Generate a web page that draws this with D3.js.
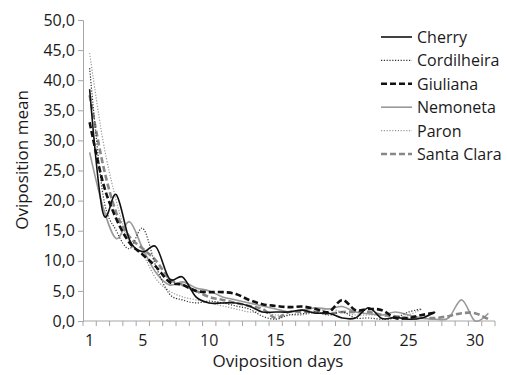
<!DOCTYPE html>
<html><head><meta charset="utf-8">
<script src="https://cdn.jsdelivr.net/npm/d3@7"></script>
<style>body{margin:0;background:#fff}svg{display:block}text{font-family:"Open Sans",sans-serif;fill:#1a1a1a}</style>
</head><body><svg id="c" width="507" height="375"></svg>
<script>
const days = d3.range(1, 32);
const xTickLabels = [1, 5, 10, 15, 20, 25, 30];
const yTicks = [0, 5, 10, 15, 20, 25, 30, 35, 40, 45, 50];
const seriesNames = ["Cherry", "Cordilheira", "Giuliana", "Nemoneta", "Paron", "Santa Clara"];
const cherry = [38.5, 18, 21, 13.5, 11.5, 12.3, 7, 7.3, 4, 3, 3, 3, 2.5, 1.5, 1.5, 1.5, 1.8, 1.3, 1.3, 0.5, 0.5, 2.2, 0.4, 0.6, 0.3, 0.5, 1.5, null, null, null, null];
const cordilheira = [42, 21, 15, 12, 15.4, 9, 4.5, 3.5, 3, 3.3, 3, 2.5, 2, 0.8, 0.3, 1, 1.2, 1.5, 1, 1.5, 0.5, 0.5, 0.3, 0.5, 1.5, 2, null, null, null, null, null];
const giuliana = [33, 23, 17, 13, 11, 9, 6.5, 6, 5, 4.8, 4.8, 4.5, 3.5, 2.8, 2.5, 2.3, 2.4, 2, 1.5, 3.5, 1.8, 2, 1.8, 0.5, 0.5, 1, 1.4, null, null, null, null];
const nemoneta = [28, 19, 13.7, 16.5, 12, 8, 6, 6.5, 5.5, 5, 4, 3.5, 3, 2.5, 2, 1.5, 1.8, 2.2, 2, 2.4, 1.5, 1.2, 1, 1.5, 1, 0.5, 0.3, 0.5, 3.5, 0, 1.3];
const paron = [44.5, 30, 20, 13, 11, 7, 5, 4, 3.5, 3, 2.5, 2, 1.5, 1.5, 1, 1, 1, 1.5, 2, 1.5, 1, 1, 1, 0.5, 1, 2, null, null, null, null, null];
const santaClara = [37.5, 26, 18, 14, 12, 10, 7, 6, 5, 4, 3.5, 3, 2.5, 2, 0.5, 1.5, 1.5, 1.5, 1.2, 1.5, 1.5, 1.5, 1, 0.8, 0.5, 0.5, 0.5, 0.8, 1.3, 1.3, 0.3];
const seriesValues = [cherry, cordilheira, giuliana, nemoneta, paron, santaClara];

const styles = [
  {stroke: "#111", width: 1.6, dash: null},
  {stroke: "#333", width: 1.2, dash: "1.2,1.6"},
  {stroke: "#111", width: 2.6, dash: "6,3"},
  {stroke: "#999", width: 1.6, dash: null},
  {stroke: "#999", width: 1.2, dash: "1.2,1.6"},
  {stroke: "#888", width: 2.6, dash: "6,3"}
];

const svg = d3.select("#c");
const x = d3.scaleBand().domain(days).range([83, 495]);
const y = d3.scaleLinear().domain([0, 50]).range([321, 20]);
const axisCol = "#a6a6a6";

// y axis
const ya = svg.append("g").attr("transform", "translate(83,0)")
  .call(d3.axisLeft(y).tickValues(yTicks).tickSize(5).tickPadding(3).tickFormat(d => d3.format(".1f")(d).replace(".", ",")));
ya.select(".domain").attr("stroke", axisCol);
ya.selectAll(".tick line").attr("stroke", axisCol);
ya.selectAll("text").attr("font-size", 16).attr("font-family", "Open Sans").attr("fill", "#1a1a1a");

// x axis
const xg = svg.append("g").attr("transform", "translate(0,321)");
xg.append("line").attr("x1", 83).attr("x2", 495).attr("stroke", axisCol);
const bounds = days.map(d => x(d)).concat([x(31) + x.bandwidth()]);
xg.selectAll("line.t").data(bounds).join("line").attr("class", "t")
  .attr("x1", d => d).attr("x2", d => d).attr("y1", 0).attr("y2", 5).attr("stroke", axisCol);
xg.selectAll("text").data(xTickLabels).join("text")
  .attr("x", d => x(d) + x.bandwidth() / 2).attr("y", 25)
  .attr("text-anchor", "middle").attr("font-size", 16).text(d => d);

// lines
const line = d3.line().defined(d => d.v != null)
  .x(d => x(d.day) + x.bandwidth() / 2).y(d => y(d.v))
  .curve(d3.curveCatmullRom.alpha(0));
const order = [3, 4, 5, 1, 2, 0];
order.forEach(i => {
  const data = days.map((d, k) => ({day: d, v: seriesValues[i][k]}));
  svg.append("path").datum(data).attr("d", line).attr("fill", "none")
    .attr("stroke", styles[i].stroke).attr("stroke-width", styles[i].width)
    .attr("stroke-dasharray", styles[i].dash);
});

// legend
const lg = svg.append("g");
seriesNames.forEach((n, i) => {
  const ly = 37 + i * 23.4;
  lg.append("line").attr("x1", 381).attr("x2", 412).attr("y1", ly).attr("y2", ly)
    .attr("stroke", styles[i].stroke).attr("stroke-width", styles[i].width)
    .attr("stroke-dasharray", styles[i].dash);
  lg.append("text").attr("x", 417).attr("y", ly + 6).attr("font-size", 16).text(n);
});

// titles
svg.append("text").attr("x", 278).attr("y", 367).attr("text-anchor", "middle").attr("font-size", 17).text("Oviposition days");
svg.append("text").attr("transform", "translate(28,160) rotate(-90)").attr("text-anchor", "middle").attr("font-size", 17).text("Oviposition mean");
</script></body></html>
